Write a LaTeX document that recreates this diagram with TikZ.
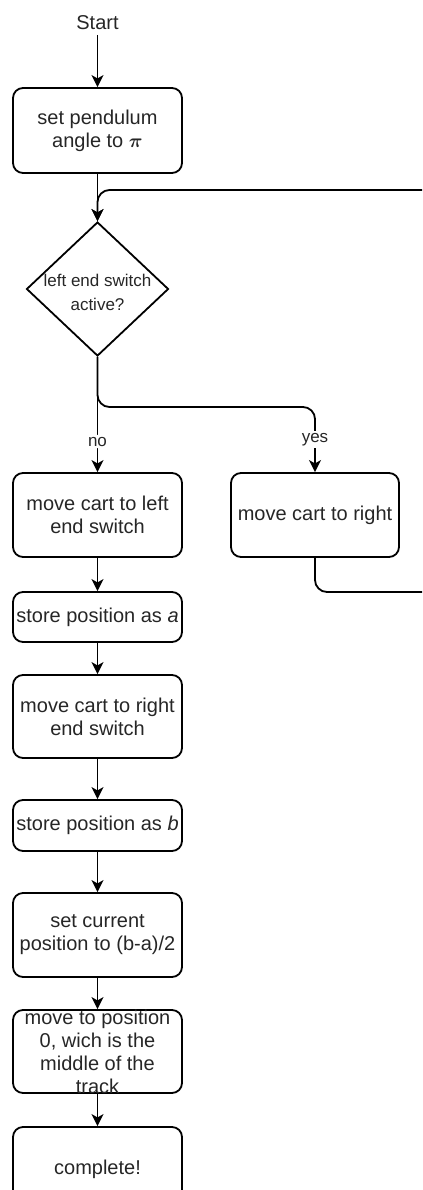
\documentclass[tikz,border=0pt]{standalone}
\usepackage{amsmath}
\usepackage{fontspec}
\setmainfont{Liberation Sans}
\usetikzlibrary{shapes.geometric,arrows.meta}
\begin{document}
\begin{tikzpicture}[x=0.75pt,y=-0.75pt,
  txt/.style={font=\fontsize{15pt}{17.25pt}\selectfont, align=center, text=black!85},
  proc/.style={draw, line width=1.35pt, rounded corners=7.5pt, minimum width=126.75pt,
    inner sep=0pt, txt},
  decision/.style={draw, diamond, line width=1.35pt, inner sep=0pt,
    minimum width=106.5pt, minimum height=100.5pt},
  dectxt/.style={font=\fontsize{12.75pt}{18pt}\selectfont, align=center, text=black!85},
  flow/.style={-{Stealth[length=9pt,width=9pt,inset=2.5pt]}, line width=1.35pt, rounded corners=9pt},
  lbl/.style={fill=white, inner sep=1.5pt, text=black!85, font=\fontsize{12.75pt}{15pt}\selectfont}]
\useasboundingbox (0,0) rectangle (422,1190);
\clip (0,0) rectangle (422,1190);

% start and initialisation
\node[txt] (start) at (97.5,23) {Start};
\node[proc, minimum height=63.75pt] (b1) at (97.5,130.5) {set pendulum\\angle to $\boldsymbol{\pi}$};

% decision
\node[decision] (dec) at (97.5,289) {};
\node[dectxt] (dectext) at (97.5,292.5) {left end switch\\active?};

% branches
\node[proc, minimum height=63pt] (b2) at (97.5,515) {move cart to left\\end switch};
\node[proc, minimum width=126pt, minimum height=63pt] (rbox) at (315,515) {move cart to right};

% main sequence
\node[proc, minimum height=37.5pt] (b3) at (97.5,617) {store position as \textit{a}};
\node[proc, minimum height=62.25pt] (b4) at (97.5,716.5) {move cart to right\\end switch};
\node[proc, minimum height=38.25pt] (b5) at (97.5,825.5) {store position as \textit{b}};
\node[proc, minimum height=63pt] (b6) at (97.5,935) {set current\\position to (b-a)/2};
\node[proc, minimum height=62.25pt] (b7) at (97.5,1051.5) {};
\node[txt] (b7text) at (97.5,1052) {move to position\\0, wich is the\\middle of the\\track};
\node[proc, minimum height=63pt] (b8) at (97.5,1169) {complete!};

% connectors
\coordinate (split) at (97.5,407);
\coordinate (loopR) at (450,592);
\coordinate (loopT) at (450,190);

\draw[flow] (start) -- (b1);
\draw[flow] (b1) -- (dec);
\draw[flow] (dec.south) -- node[lbl, pos=0.735] (nolbl) {no} (b2.north);
\draw[flow] (dec.south) -- (split) -| node[lbl, pos=0.75] (yeslbl) {yes} (rbox.north);
\draw[flow] (rbox.south) |- (loopR) -- (loopT) -| (dec.north);
\draw[flow] (b2) -- (b3);
\draw[flow] (b3) -- (b4);
\draw[flow] (b4) -- (b5);
\draw[flow] (b5) -- (b6);
\draw[flow] (b6) -- (b7);
\draw[flow] (b7) -- (b8);
\end{tikzpicture}
\end{document}
